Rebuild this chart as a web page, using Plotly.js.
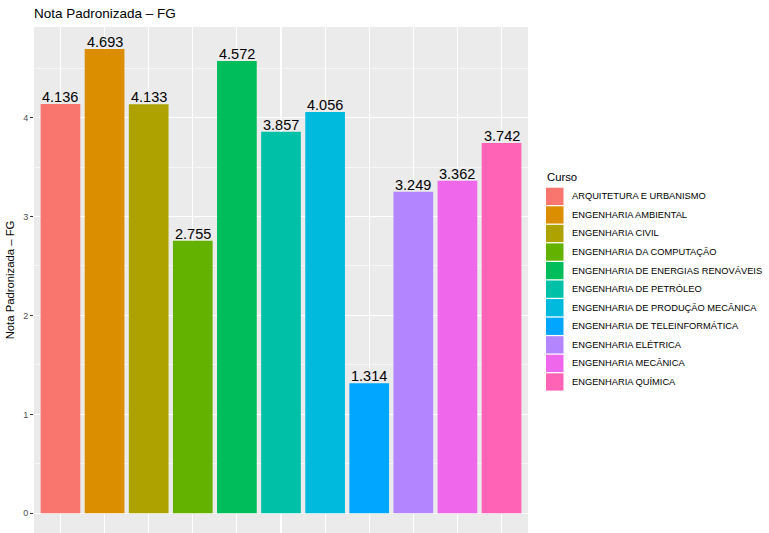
<!DOCTYPE html>
<html>
<head>
<meta charset="utf-8">
<script src="https://cdn.plot.ly/plotly-3.0.1.min.js"></script>
<style>
html,body{margin:0;padding:0;background:#fff;overflow:hidden;}
#chart{width:769px;height:533px;}
</style>
</head>
<body>
<div id="chart"></div>
<script>
const categories = [
  "ARQUITETURA E URBANISMO",
  "ENGENHARIA AMBIENTAL",
  "ENGENHARIA CIVIL",
  "ENGENHARIA DA COMPUTAÇÃO",
  "ENGENHARIA DE ENERGIAS RENOVÁVEIS",
  "ENGENHARIA DE PETRÓLEO",
  "ENGENHARIA DE PRODUÇÃO MECÂNICA",
  "ENGENHARIA DE TELEINFORMÁTICA",
  "ENGENHARIA ELÉTRICA",
  "ENGENHARIA MECÂNICA",
  "ENGENHARIA QUÍMICA"
];
const values = [4.136, 4.693, 4.133, 2.755, 4.572, 3.857, 4.056, 1.314, 3.249, 3.362, 3.742];
const colors = ["#F8766D","#DB8E00","#AEA200","#64B200","#00BD5C","#00C1A7","#00BADE","#00A6FF","#B385FF","#EF67EB","#FF63B6"];
const yTicks = [0, 1, 2, 3, 4];
const chartTitle = "Nota Padronizada – FG";
const yTitle = "Nota Padronizada – FG";
const legendTitle = "Curso";

const W = 769, H = 533;
const L = 34, R = 528, T = 27, B = 533;
const px2x = x => (x - L) / (R - L);
const px2y = y => (B - y) / (B - T);
const FONT = "Liberation Sans, Arial, Helvetica, sans-serif";

const trace = {
  type: "bar",
  x: categories,
  y: values,
  width: 0.9,
  marker: {color: colors, line: {width: 0}},
  hoverinfo: "x+y",
  showlegend: false
};

const annotations = categories.map((c, i) => ({
  x: c, y: values[i], xref: "x", yref: "y",
  text: values[i].toFixed(3),
  showarrow: false, yanchor: "bottom", xanchor: "center",
  yshift: -3,
  font: {family: FONT, size: 14.5, color: "#000"}
}));

// legend (built from categories/colors)
annotations.push({
  xref: "paper", yref: "paper", x: px2x(545), y: px2y(177.5),
  xanchor: "left", yanchor: "middle", showarrow: false,
  text: legendTitle, font: {family: FONT, size: 11.3, color: "#000"}
});
const shapes = [];
const keyTop = 187.7, pitch = 18.56, keyH = 17.3, keyL = 546, keyR = 563.5;
categories.forEach((c, i) => {
  const top = keyTop + i * pitch;
  shapes.push({
    type: "rect", xref: "paper", yref: "paper",
    x0: px2x(keyL), x1: px2x(keyR), y0: px2y(top + keyH), y1: px2y(top),
    fillcolor: colors[i], line: {width: 0}
  });
  annotations.push({
    xref: "paper", yref: "paper", x: px2x(569.5), y: px2y(top + keyH / 2),
    xanchor: "left", yanchor: "middle", showarrow: false,
    text: c, font: {family: FONT, size: 9.3, color: "#000"}
  });
});

const layout = {
  width: W, height: H,
  margin: {l: L, r: W - R, t: T, b: H - B, pad: 0},
  paper_bgcolor: "#fff",
  plot_bgcolor: "#EBEBEB",
  font: {family: FONT},
  title: {
    text: chartTitle, xref: "container", yref: "container",
    x: 34 / W, xanchor: "left", y: 1 - 13 / H, yanchor: "middle",
    font: {family: FONT, size: 13.5, color: "#000"}
  },
  xaxis: {
    type: "category",
    range: [-0.6, categories.length - 0.4],
    showgrid: true, gridcolor: "#FFFFFF", gridwidth: 1.07,
    showticklabels: false, ticks: "", zeroline: false, showline: false,
    fixedrange: true
  },
  yaxis: {
    range: [-0.199, 4.915],
    tickvals: yTicks, ticktext: yTicks.map(String),
    showgrid: true, gridcolor: "#FFFFFF", gridwidth: 1.07,
    minor: {dtick: 0.5, tick0: 0, showgrid: true, gridcolor: "#FFFFFF", gridwidth: 0.53, ticks: ""},
    zeroline: false, showline: false,
    ticks: "outside", ticklen: 3, tickwidth: 1, tickcolor: "#333333",
    tickfont: {family: FONT, size: 9, color: "#4D4D4D"},
    title: {text: yTitle, standoff: 6, font: {family: FONT, size: 11.3, color: "#000"}},
    fixedrange: true
  },
  bargap: 0.1,
  showlegend: false,
  annotations: annotations,
  shapes: shapes
};

Plotly.newPlot("chart", [trace], layout, {displayModeBar: false, staticPlot: true});
</script>
</body>
</html>
